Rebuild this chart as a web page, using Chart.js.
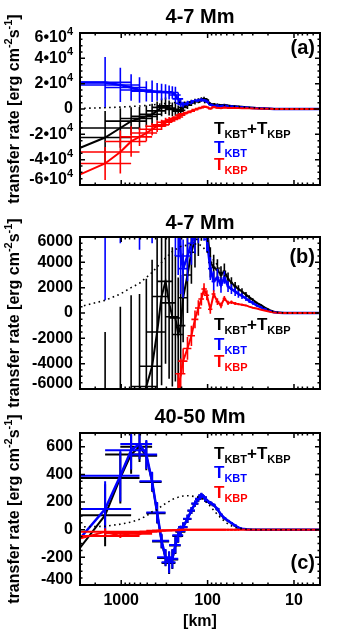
<!DOCTYPE html>
<html>
<head>
<meta charset="utf-8">
<script src="https://cdn.jsdelivr.net/npm/chart.js@4.4.1/dist/chart.umd.min.js"></script>
<style>
  html, body { margin: 0; padding: 0; background: #fff; }
  #wrap { position: relative; width: 342px; height: 631px; overflow: hidden; }
  canvas { position: absolute; left: 0; top: 0; }
</style>
</head>
<body>
<div id="wrap">
  <canvas id="panelA" width="342" height="631"></canvas>
  <canvas id="panelB" width="342" height="631"></canvas>
  <canvas id="panelC" width="342" height="631"></canvas>
</div>
<script>
// spatial scale of each point [km] and the horizontal extent of its bin
const scaleKm = [3072, 1536, 1024, 768, 614, 512, 439, 384, 341, 307, 279, 256, 236, 219, 205, 192, 171, 154, 140, 128, 118, 110, 102, 93, 85, 77, 70, 64, 58, 53, 48, 44, 40, 36, 33, 30, 27, 24, 22, 19, 17, 15, 13, 11, 8.5, 6.7, 5];
const binLoKm = [null, 9000, 3072, 1536, 1024, 768, 614, 512, 439, 384, 341, 307, 279, 256, 236, 219, 192, 171, 154, 140, 128, 118, 110, 99, 90, 81, 73, 67, 60, 55, 50, 45, null, null, null, null, null, null, null, null, null, null, null, null, null, null, null];
const binHiKm = [null, 768, 614, 512, 439, 384, 341, 307, 279, 256, 236, 219, 205, 192, 181, 171, 154, 140, 128, 118, 110, 102, 96, 88, 81, 73, 67, 61, 56, 51, 46, 43, null, null, null, null, null, null, null, null, null, null, null, null, null, null, null];

// 4-7 Mm (panels a and b)
const sumMid = [-31000, -22500, -15000, -9600, -7500, -5800, -4200, -1500, 1300, 2500, 800, -300, -400, -1700, -1000, 1200, 3000, 4800, 5800, 6500, 7500, 8000, 7000, 4000, 3600, 3400, 3000, 3300, 2700, 2400, 2100, 1900, 1700, 1450, 1250, 1050, 800, 620, 450, 220, 90, 30, 0, 0, 0, 0, 0];
const sumMidErr = [0, 21000, 15500, 11000, 9000, 8500, 8400, 7500, 7000, 6500, 6000, 5500, 5000, 4500, 4000, 3500, 3000, 2500, 2200, 2000, 1800, 1600, 1400, 1200, 1000, 850, 700, 600, 500, 420, 350, 300, 250, 200, 160, 120, 90, 60, 40, 25, 10, 5, 0, 0, 0, 0, 0];
const kbtMid = [21000, 21000, 19000, 17000, 15000, 14000, 14000, 13500, 13500, 13500, 13000, 13000, 11000, 8000, 4500, 3500, 4500, 5500, 6200, 6800, 7200, 6800, 5800, 3500, 2500, 2800, 2200, 2800, 2100, 1900, 1700, 1500, 1350, 1150, 950, 800, 600, 450, 330, 150, 60, 20, 0, 0, 0, 0, 0];
const kbtMidErr = [0, 20000, 13500, 10500, 10000, 8000, 8500, 7000, 6500, 6000, 5500, 5000, 6500, 5000, 3000, 2300, 2000, 1700, 1500, 1300, 1200, 1100, 1000, 900, 800, 700, 600, 500, 450, 400, 350, 300, 250, 200, 170, 140, 110, 80, 60, 40, 25, 10, 0, 0, 0, 0, 0];
const kbpMid = [-52000, -43000, -34000, -25600, -22000, -19000, -16000, -13600, -12500, -10500, -9500, -8300, -7500, -6300, -4800, -3800, -2800, -1800, -500, 400, 1100, 1900, 1400, 300, 1500, 900, 600, 1150, 800, 850, 750, 700, 650, 600, 500, 420, 350, 250, 200, 100, 40, 15, 0, 0, 0, 0, 0];
const kbpMidErr = [0, 13000, 17000, 12000, 7300, 6500, 5000, 4500, 4000, 3500, 3200, 2000, 1200, 1500, 1200, 1000, 900, 800, 700, 600, 500, 450, 400, 350, 300, 260, 220, 190, 160, 130, 110, 90, 75, 60, 50, 40, 30, 20, 15, 10, 5, 0, 0, 0, 0, 0, 0];
const refMid = [480, 1000, 1500, 2000, 2350, 2800, 3200, 3650, 4000, 4350, 4600, 4850, 5000, 5150, 5250, 5300, 5350, 5400, 5450, 5450, 5300, 5100, 4850, 4500, 4150, 3800, 3200, 3000, 2650, 2350, 2050, 1850, 1650, 1400, 1200, 1000, 780, 600, 430, 210, 85, 30, 10, 0, 0, 0, 0];

// 40-50 Mm (panel c)
const sumBig = [-140, 105, 375, 545, 600, 535, 345, 120, -85, -205, -240, -215, -115, -45, -15, 18, 78, 138, 188, 223, 248, 233, 208, 193, 178, 148, 108, 83, 63, 47, 29, 14, 7, 3, 1, 0, 0, 0, 0, 0, 0, 0, 0, 0, 0, 0, 0];
const sumBigErr = [0, 225, 185, 140, 110, 105, 70, 75, 50, 60, 80, 70, 60, 50, 40, 35, 30, 25, 22, 20, 18, 15, 15, 12, 10, 10, 8, 7, 6, 5, 4, 3, 2, 0, 0, 0, 0, 0, 0, 0, 0, 0, 0, 0, 0, 0, 0];
const kbtBig = [-70, 150, 390, 575, 620, 545, 350, 125, -80, -200, -235, -210, -110, -40, -10, 20, 80, 140, 190, 225, 250, 235, 210, 195, 180, 150, 110, 85, 65, 48, 30, 15, 8, 4, 2, 0, 0, 0, 0, 0, 0, 0, 0, 0, 0, 0, 0];
const kbtBigErr = [0, 200, 185, 140, 110, 105, 70, 75, 50, 60, 80, 70, 60, 50, 40, 35, 30, 25, 22, 20, 18, 15, 15, 12, 10, 10, 8, 7, 6, 5, 4, 3, 2, 0, 0, 0, 0, 0, 0, 0, 0, 0, 0, 0, 0, 0, 0];
const kbpBig = [-65, -15, -45, -25, -30, -15, -12, -8, -6, -5, -4, -3, -3, -2, -2, -1, -1, -1, -1, 0, 0, 0, 0, 0, 0, 0, 0, 0, 0, 0, 0, 0, 0, 0, 0, 0, 0, 0, 0, 0, 0, 0, 0, 0, 0, 0, 0];
const kbpBigErr = [0, 25, 15, 12, 10, 8, 6, 5, 4, 3, 3, 2, 2, 0, 0, 0, 0, 0, 0, 0, 0, 0, 0, 0, 0, 0, 0, 0, 0, 0, 0, 0, 0, 0, 0, 0, 0, 0, 0, 0, 0, 0, 0, 0, 0, 0, 0];
const refBig = [20, 25, 40, 55, 75, 100, 130, 145, 170, 190, 205, 220, 227, 235, 240, 244, 246, 244, 240, 235, 228, 215, 195, 170, 140, 110, 85, 62, 42, 28, 17, 10, 6, 3, 2, 1, 0, 0, 0, 0, 0, 0, 0, 0, 0, 0, 0];

// tick labels
const xTicks = [1000, 100, 10];
const xLabels = ['1000', '100', '10'];
const yTicksA = [-60000, -40000, -20000, 0, 20000, 40000, 60000];
const yLabelsA = ['-6\u202210^4', '-4\u202210^4', '-2\u202210^4', '0', '2\u202210^4', '4\u202210^4', '6\u202210^4'];
const yTicksB = [-6000, -4000, -2000, 0, 2000, 4000, 6000];
const yLabelsB = ['-6000', '-4000', '-2000', '0', '2000', '4000', '6000'];
const yTicksC = [-400, -200, 0, 200, 400, 600];
const yLabelsC = ['-400', '-200', '0', '200', '400', '600'];

const FONT = '"Liberation Sans", Arial, Helvetica, sans-serif';
const bold = (px) => 'bold ' + px + 'px ' + FONT;

// label with optional ^superscript, right aligned at x
function supText(ctx, text, x, y, size, supSize, rise, align) {
  const [base, sup] = text.split('^');
  ctx.font = bold(size);
  const w1 = ctx.measureText(base).width;
  ctx.font = bold(supSize);
  const w2 = sup ? ctx.measureText(sup).width : 0;
  let x0 = align === 'right' ? x - w1 - w2 : x;
  ctx.textAlign = 'left';
  ctx.font = bold(size);
  ctx.fillText(base, x0, y);
  if (sup) {
    ctx.font = bold(supSize);
    ctx.fillText(sup, x0 + w1, y - rise);
  }
}

function legendT(ctx, x, y, sub, color) {
  ctx.fillStyle = color;
  ctx.font = bold(17);
  ctx.fillText('T', x, y);
  x += ctx.measureText('T').width;
  ctx.font = bold(11);
  ctx.fillText(sub, x, y + 4);
  return x + ctx.measureText(sub).width;
}

const idlFrame = {
  id: 'idlFrame',
  afterDatasetDraw(chart, args, o) {
    const ds = chart.data.datasets[args.index];
    if (!ds.yErr) return;
    const {ctx, chartArea: a} = chart;
    const xs = chart.scales.x, ys = chart.scales.y;
    ctx.save();
    ctx.beginPath();
    ctx.rect(a.left, a.top, a.right - a.left, a.bottom - a.top);
    ctx.clip();
    ctx.strokeStyle = ds.borderColor;
    ctx.lineWidth = o.errWidth;
    ctx.beginPath();
    ds.data.forEach((p, i) => {
      const px = xs.getPixelForValue(p.x);
      const py = ys.getPixelForValue(p.y);
      const e = ds.yErr[i];
      if (e > 0) {
        ctx.moveTo(px, ys.getPixelForValue(p.y - e));
        ctx.lineTo(px, ys.getPixelForValue(p.y + e));
      }
      if (binLoKm[i] != null) {
        ctx.moveTo(xs.getPixelForValue(binLoKm[i]), py);
        ctx.lineTo(xs.getPixelForValue(binHiKm[i]), py);
      }
    });
    ctx.stroke();
    ctx.restore();
  },
  afterDraw(chart, args, o) {
    const {ctx, chartArea: a} = chart;
    const xs = chart.scales.x, ys = chart.scales.y;
    ctx.save();
    ctx.strokeStyle = '#000';
    ctx.fillStyle = '#000';

    // inward ticks on all four sides
    ctx.lineWidth = 1.5;
    ctx.beginPath();
    for (let d = 1; d <= 1000; d *= 10) {
      for (let m = 1; m <= 9; m++) {
        const v = d * m;
        if (v < xs.min || v > xs.max) continue;
        const px = xs.getPixelForValue(v);
        const len = m === 1 ? 5 : 2.5;
        ctx.moveTo(px, a.bottom); ctx.lineTo(px, a.bottom - len);
        ctx.moveTo(px, a.top); ctx.lineTo(px, a.top + len);
      }
    }
    const t0 = o.yTicks[0];
    const minor = (o.yTicks[1] - t0) / 4;
    const nLo = Math.ceil((ys.min - t0) / minor - 1e-6);
    const nHi = Math.floor((ys.max - t0) / minor + 1e-6);
    for (let n = nLo; n <= nHi; n++) {
      const py = ys.getPixelForValue(t0 + n * minor);
      const len = n % 4 === 0 ? 5 : 2.5;
      ctx.moveTo(a.left, py); ctx.lineTo(a.left + len, py);
      ctx.moveTo(a.right, py); ctx.lineTo(a.right - len, py);
    }
    ctx.stroke();

    // frame
    ctx.lineWidth = 2;
    ctx.strokeRect(a.left, a.top, a.right - a.left, a.bottom - a.top);

    // y tick labels
    ctx.textBaseline = 'middle';
    o.yTicks.forEach((v, i) => {
      let py = ys.getPixelForValue(v);
      py = Math.min(Math.max(py, a.top + 5), a.bottom - 5);
      supText(ctx, o.yLabels[i], a.left - 7, py, 16, 11, 6, 'right');
    });

    // y axis title, rotated, with superscripts
    ctx.save();
    ctx.translate(13, (a.top + a.bottom) / 2);
    ctx.rotate(-Math.PI / 2);
    const parts = [['transfer rate [erg cm', 0], ['-2', 1], ['s', 0], ['-1', 1], [']', 0]];
    let total = 0;
    parts.forEach(([t, s]) => { ctx.font = bold(s ? 11 : 16); total += ctx.measureText(t).width; });
    let tx = -total / 2;
    ctx.textAlign = 'left';
    ctx.textBaseline = 'alphabetic';
    parts.forEach(([t, s]) => {
      ctx.font = bold(s ? 11 : 16);
      ctx.fillText(t, tx, s ? -1 : 6);
      tx += ctx.measureText(t).width;
    });
    ctx.restore();

    // panel title
    ctx.textAlign = 'center';
    ctx.textBaseline = 'middle';
    ctx.font = bold(20);
    ctx.fillText(o.title, (a.left + a.right) / 2, o.titleY);

    // panel letter
    ctx.textAlign = 'right';
    ctx.fillText(o.letter, a.right - 5, o.letterY);

    // legend
    ctx.textAlign = 'left';
    ctx.textBaseline = 'alphabetic';
    const lx = 214;
    let x = legendT(ctx, lx, o.legendY[0], 'KBT', '#000');
    ctx.font = bold(17);
    ctx.fillText('+', x, o.legendY[0]);
    x += ctx.measureText('+').width;
    legendT(ctx, x, o.legendY[0], 'KBP', '#000');
    legendT(ctx, lx, o.legendY[1], 'KBT', '#0000ff');
    legendT(ctx, lx, o.legendY[2], 'KBP', '#ff0000');
    ctx.restore();
  }
};

function series(vals, errs, color, width) {
  return {
    data: scaleKm.map((s, i) => ({x: s, y: vals[i]})),
    yErr: errs,
    borderColor: color,
    borderWidth: width,
    pointRadius: 0,
    tension: 0,
    fill: false
  };
}

function dotted(vals) {
  return {
    data: scaleKm.map((s, i) => ({x: s, y: vals[i]})),
    borderColor: '#000',
    borderWidth: 1.6,
    borderDash: [1.6, 3.4],
    pointRadius: 0,
    tension: 0,
    fill: false
  };
}

function makePanel(id, p) {
  new Chart(document.getElementById(id), {
    type: 'line',
    data: {
      // first dataset is drawn on top
      datasets: [
        dotted(p.ref),
        series(p.kbp, p.kbpErr, '#ff0000', p.lineWidth),
        series(p.kbt, p.kbtErr, '#0000ff', p.lineWidth + 0.5),
        series(p.sum, p.sumErr, '#000000', p.lineWidth)
      ]
    },
    options: {
      responsive: false,
      animation: false,
      events: [],
      layout: { padding: { left: 80, right: 22, top: p.top, bottom: p.bottom } },
      plugins: {
        legend: { display: false },
        tooltip: { enabled: false },
        idlFrame: p.deco
      },
      scales: {
        x: {
          type: 'logarithmic',
          reverse: true,
          min: 5,
          max: 3000,
          display: p.showX,
          grid: { display: false, drawTicks: false },
          border: { display: false },
          ticks: {
            autoSkip: false,
            maxRotation: 0,
            padding: 6,
            color: '#000',
            font: { family: FONT, size: 16, weight: 'bold' },
            callback: (v) => {
              const i = xTicks.indexOf(v);
              return i < 0 ? '' : xLabels[i];
            }
          },
          title: {
            display: true,
            text: '[km]',
            color: '#000',
            padding: 0,
            font: { family: FONT, size: 16, weight: 'bold' }
          },
          afterFit: (s) => { s.height = p.showX ? 46 : 0; }
        },
        y: { type: 'linear', min: p.yMin, max: p.yMax, display: false }
      }
    },
    plugins: [idlFrame]
  });
}

makePanel('panelA', {
  top: 33, bottom: 446, showX: false, yMin: -60000, yMax: 60000, lineWidth: 2,
  sum: sumMid, sumErr: sumMidErr, kbt: kbtMid, kbtErr: kbtMidErr, kbp: kbpMid, kbpErr: kbpMidErr, ref: refMid,
  deco: { title: '4-7 Mm', titleY: 17, letter: '(a)', letterY: 48, legendY: [134, 153, 170], yTicks: yTicksA, yLabels: yLabelsA, errWidth: 1.6 }
});

makePanel('panelB', {
  top: 237, bottom: 242, showX: false, yMin: -6000, yMax: 6000, lineWidth: 2,
  sum: sumMid, sumErr: sumMidErr, kbt: kbtMid, kbtErr: kbtMidErr, kbp: kbpMid, kbpErr: kbpMidErr, ref: refMid,
  deco: { title: '4-7 Mm', titleY: 223, letter: '(b)', letterY: 257, legendY: [330, 350, 367], yTicks: yTicksB, yLabels: yLabelsB, errWidth: 1.6 }
});

makePanel('panelC', {
  top: 433, bottom: 0, showX: true, yMin: -400, yMax: 700, lineWidth: 2,
  sum: sumBig, sumErr: sumBigErr, kbt: kbtBig, kbtErr: kbtBigErr, kbp: kbpBig, kbpErr: kbpBigErr, ref: refBig,
  deco: { title: '40-50 Mm', titleY: 417, letter: '(c)', letterY: 563, legendY: [459, 478, 498], yTicks: yTicksC, yLabels: yLabelsC, errWidth: 2 }
});
</script>
</body>
</html>
